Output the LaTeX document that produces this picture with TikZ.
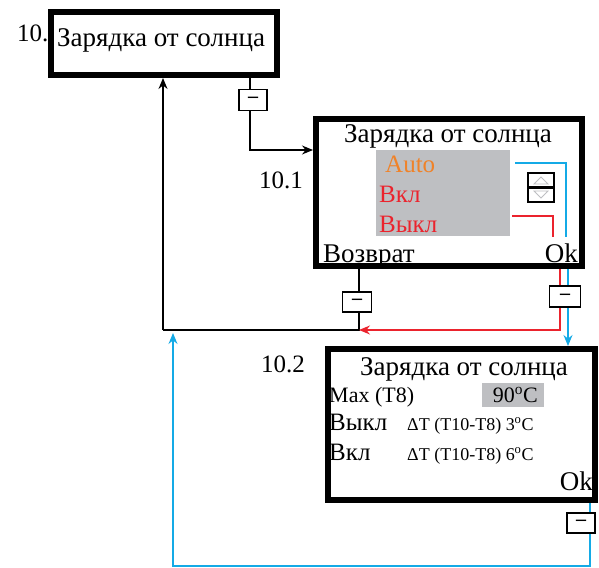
\documentclass[tikz,border=0pt]{standalone}
\usepackage{fontspec}
\setmainfont{Liberation Serif}
\newfontfamily\lcdfont[Ligatures=TeX]{Liberation Serif}
\usetikzlibrary{arrows.meta}
\definecolor{okblue}{RGB}{20,170,230}
\definecolor{offred}{RGB}{235,35,45}
\definecolor{autoorange}{RGB}{240,130,40}
\definecolor{lcdgray}{RGB}{190,191,194}

\begin{document}
\begin{tikzpicture}[x=1pt,y=-1pt,>={Stealth[length=11pt,width=9pt]},
  screen/.style={draw,line width=6pt,inner sep=0pt},
  minusbtn/.style={draw,fill=white,line width=1.2pt,inner sep=0pt,
    minimum width=28pt,minimum height=21pt,font=\lcdfont\fontsize{20}{20}\selectfont\bfseries},
  big/.style={inner sep=0pt,font=\lcdfont\fontsize{27}{27}\selectfont},
  item/.style={inner sep=0pt,font=\lcdfont\fontsize{25}{25}\selectfont},
  mid/.style={inner sep=0pt,font=\lcdfont\fontsize{22}{22}\selectfont},
  small/.style={inner sep=0pt,font=\lcdfont\fontsize{18}{18}\selectfont}]
  \useasboundingbox (0,0) rectangle (599,567);
  % screens
  \node[screen,minimum width=226pt,minimum height=63pt] (s10) at (164,43.5) {};
  \node[screen,minimum width=266pt,minimum height=147pt] (s101) at (449,192.5) {};
  \node[screen,minimum width=267pt,minimum height=151pt] (s102) at (461.5,424.5) {};
  % 10.
  \node[item,anchor=base west] (n10) at (17,42) {10.};
  \node[big,anchor=base west] (t10) at (57,47) {Зарядка от солнца};
  % 10.1
  \node[item,anchor=base east] (n101) at (303,188) {10.1};
  \node[big,anchor=base] (t101) at (448,142) {Зарядка от солнца};
  \fill[lcdgray] (376,150) rectangle (510,236);
  \node[item,anchor=base west,text=autoorange] (auto) at (385,172) {Auto};
  \node[item,anchor=base west,text=offred] (on1) at (379,202) {Вкл};
  \node[item,anchor=base west,text=offred] (off1) at (379,232) {Выкл};
  \node[big,anchor=base west] (back) at (323,262) {Возврат};
  \node[big,anchor=base east] (ok1) at (578,262) {Ok};
  % up/down keys
  \node[draw,line width=1.2pt,minimum width=26pt,minimum height=29pt,inner sep=0pt] (keys) at (541,187.5) {};
  \draw[line width=2.5pt] (keys.west) -- (keys.east);
  \draw[lcdgray,line width=.8pt] (534,184) -- (541,177) -- (548,184) -- cycle;
  \draw[lcdgray,line width=.8pt] (534,191) -- (541,198) -- (548,191) -- cycle;
  % 10.2
  \node[item,anchor=base east] (n102) at (305,372) {10.2};
  \node[big,anchor=base] (t102) at (464,375) {Зарядка от солнца};
  \node[mid,anchor=base west] (maxt) at (329,402) {Max (T8)};
  \node[fill=lcdgray,minimum width=62pt,minimum height=24pt,inner sep=0pt] (setmax) at (513,395) {};
  \node[mid,anchor=base east] (val) at (538,402) {90\textsuperscript{o}C};
  \node[item,anchor=base west] (off2) at (329,430) {Выкл};
  \node[small,anchor=base west] (doff) at (407,430) {ΔT (T10-T8) 3\textsuperscript{o}C};
  \node[item,anchor=base west] (on2) at (329,460) {Вкл};
  \node[small,anchor=base west] (don) at (407,460) {ΔT (T10-T8) 6\textsuperscript{o}C};
  \node[big,anchor=base east] (ok2) at (593,490) {Ok};
  % keys between screens
  \node[minusbtn] (m1) at (253,100) {–};
  \node[minusbtn,minimum width=29pt,minimum height=20pt] (m2) at (357,302) {–};
  \node[minusbtn,minimum width=31pt] (m3) at (565,296.5) {–};
  \node[minusbtn,minimum height=20pt] (m4) at (581,523) {–};
  \coordinate (in101) at (313,150);
  \coordinate (j2) at (359,330);
  \coordinate (j3) at (163,330);
  \coordinate (r1) at (560,330);
  \coordinate (b1) at (590,566);
  \coordinate (b2) at (173,566);
  % black
  \draw[line width=1.2pt] (s10.south -| 250,0) -- (m1.north -| 250,0);
  \draw[line width=1.2pt,->] (m1.south -| 250,0) |- (in101);
  \draw[line width=1.2pt] (s101.south -| j2) -- (m2.north -| j2);
  \draw[line width=1.2pt] (m2.south -| j2) -- (j2) -- (j3);
  \draw[line width=1.2pt,->] (j3) -- (s10.south -| j3);
  % red
  \draw[offred,line width=1.2pt] (512,216) -| (553,237);
  \draw[offred,line width=1.2pt,->] (s101.south -| r1) -- (r1) -- (j2);
  % blue
  \draw[okblue,line width=1.2pt] (515,163) -| (566,237);
  \draw[okblue,line width=1.2pt,->] (s101.south -| 568,0) -- (s102.north -| 568,0);
  \draw[okblue,line width=1.2pt,->] (s102.south -| b1) -- (b1) -- (b2) -- (173,333);
  % keys on top of lines
  \node[minusbtn] at (m1) {–};
  \node[minusbtn,minimum width=29pt,minimum height=20pt] at (m2) {–};
  \node[minusbtn,minimum width=31pt] at (m3) {–};
  \node[minusbtn,minimum height=20pt] at (m4) {–};
\end{tikzpicture}
\end{document}
